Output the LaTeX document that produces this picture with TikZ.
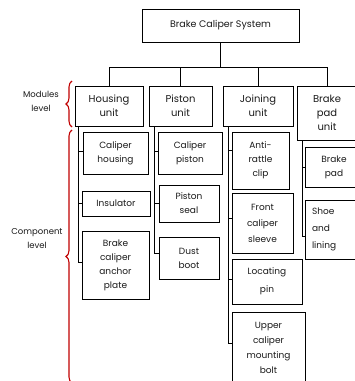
\documentclass[tikz,border=0pt]{standalone}
\usepackage{fontspec}
\setmainfont{Poppins}
\usetikzlibrary{decorations.pathreplacing}
\definecolor{bracered}{HTML}{C00000}
\definecolor{txt}{HTML}{1A1A1A}
\tikzset{
  box/.style={draw, line width=0.8pt, inner sep=1pt, align=center, text=txt, font=\fontsize{9}{14}\selectfont},
  conn/.style={line width=0.8pt},
  bracedeco/.style={draw=bracered, line width=1.1pt, decorate, decoration={brace, amplitude=6pt}},
  lbl/.style={align=center, text=txt, font=\fontsize{8.5}{14}\selectfont}
}
\begin{document}
\begin{tikzpicture}[x=1pt,y=-1pt]
\useasboundingbox (0,0) rectangle (355,381);
% top
\node[box, minimum width=157pt, minimum height=33pt, font=\fontsize{9.5}{14}\selectfont] (top) at (220.5,25.5) {Brake Caliper System};
% modules
\node[box, minimum width=68pt, minimum height=40pt, font=\fontsize{10}{14}\selectfont] (hou) at (109,106) {Housing\\unit};
\node[box, minimum width=63pt, minimum height=40pt, font=\fontsize{10}{14}\selectfont] (pis) at (180.5,106) {Piston\\unit};
\node[box, minimum width=70pt, minimum height=40pt, font=\fontsize{10}{14}\selectfont] (joi) at (258,106) {Joining\\unit};
\node[box, minimum width=60pt, minimum height=54pt, font=\fontsize{10}{14}\selectfont] (bpu) at (327,113) {Brake\\pad\\unit};
% housing components
\node[box, minimum width=65pt, minimum height=42pt] (ch) at (115.5,153) {Caliper\\housing};
\node[box, minimum width=68pt, minimum height=25pt] (ins) at (116,203.5) {Insulator};
\node[box, minimum width=67pt, minimum height=68pt] (acp) at (115.5,265) {Brake\\caliper\\anchor\\plate};
% piston components
\node[box, minimum width=64pt, minimum height=42pt] (cp) at (190,153) {Caliper\\piston};
\node[box, minimum width=60pt, minimum height=37pt] (ps) at (189,203.5) {Piston\\seal};
\node[box, minimum width=60pt, minimum height=42pt] (db) at (189,258) {Dust\\boot};
% joining components
\node[box, minimum width=57pt, minimum height=57pt] (arc) at (260.5,160.5) {Anti-\\rattle\\clip};
\node[box, minimum width=61pt, minimum height=60pt, font=\fontsize{9}{16}\selectfont] (fcs) at (262.5,223) {Front\\caliper\\sleeve};
\node[box, minimum width=70pt, minimum height=45pt, font=\fontsize{9}{18}\selectfont] (lp) at (267,281.5) {Locating\\pin};
\node[box, minimum width=73pt, minimum height=72pt, font=\fontsize{9}{15}\selectfont] (ucb) at (268.5,348) {Upper\\caliper\\mounting\\bolt};
% brake pad components
\node[box, minimum width=58pt, minimum height=40pt] (bp) at (334,167) {Brake\\pad};
\node[box, minimum width=58pt, minimum height=59pt, align=left, text width=44pt, font=\fontsize{9}{17}\selectfont] (sl) at (334,229.5) {Shoe\\and\\lining};
% connectors
\coordinate (bus) at (220.5,67);
\draw[conn] (top.south) -- (bus);
\draw[conn] (bus) -| (hou.north);
\draw[conn] (bus) -| (pis.north);
\draw[conn] (bus) -| (joi.north);
\draw[conn] (bus) -| (bpu.north);
\coordinate (hs) at (78,126);
\draw[conn] (hs) |- ([yshift=2pt]ch.west);
\draw[conn] (hs) |- (ins.west);
\draw[conn] (hs) |- ([yshift=3pt]acp.west);
\coordinate (pst) at (154,126);
\draw[conn] (pst) |- ([yshift=2pt]cp.west);
\draw[conn] (pst) |- (ps.west);
\draw[conn] (pst) |- ([yshift=5pt]db.west);
\coordinate (jst) at (228,126);
\draw[conn] (jst) |- ([yshift=10pt]arc.west);
\draw[conn] (jst) |- ([yshift=5pt]fcs.west);
\draw[conn] (jst) |- ([yshift=2pt]lp.west);
\draw[conn] (jst) |- ([yshift=5pt]ucb.west);
\coordinate (bst) at (302,140);
\draw[conn] (bst) |- (bp.west);
\draw[conn] (bst) |- ([yshift=-7pt]sl.west);
% braces
\coordinate (mb1) at (72,127);
\coordinate (mb2) at (72,81);
\coordinate (cb1) at (72,383);
\coordinate (cb2) at (72,130);
\draw[bracedeco] (mb1) -- (mb2);
\draw[bracedeco] (cb1) -- (cb2);
\node[lbl] (ml) at (41,101) {Modules\\level};
\node[lbl] (cl) at (37,239) {Component\\level};
\end{tikzpicture}
\end{document}
